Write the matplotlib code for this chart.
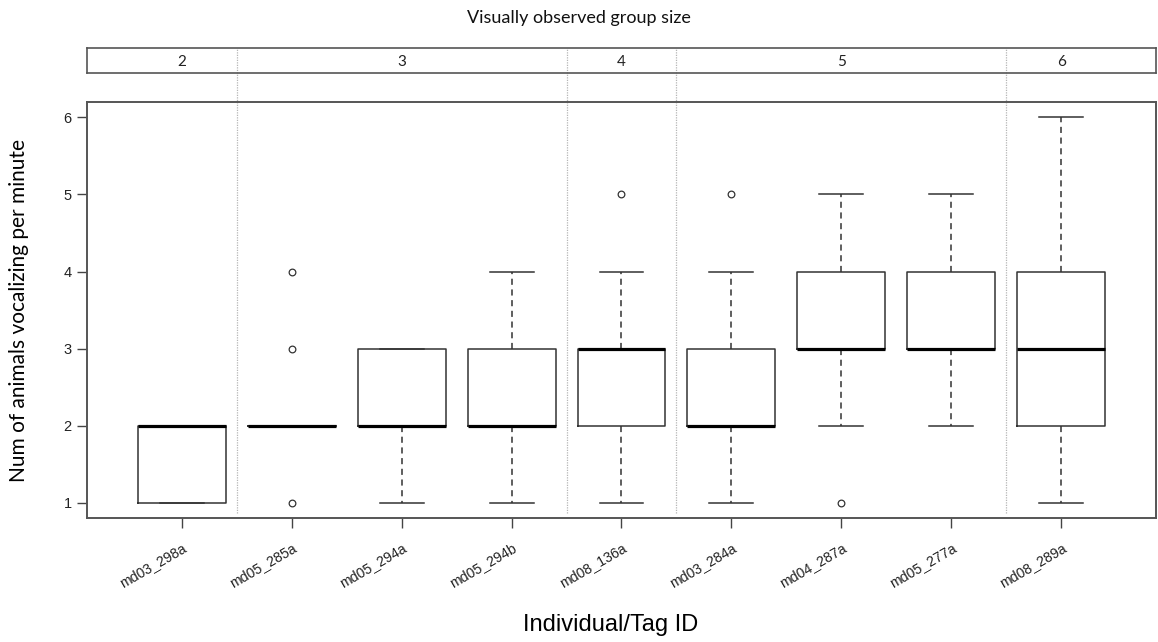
import numpy as np
import matplotlib
matplotlib.use("Agg")
import matplotlib.pyplot as plt

# Tag IDs, one box each
tags = ["md03_298a", "md05_285a", "md05_294a", "md05_294b", "md08_136a",
        "md03_284a", "md04_287a", "md05_277a", "md08_289a"]

# Five-number summaries per tag (animals vocalizing per minute)
whisk_lo = [1, 2, 1, 1, 1, 1, 2, 2, 1]
q1 = [1, 2, 2, 2, 2, 2, 3, 3, 2]
median = [2, 2, 2, 2, 3, 2, 3, 3, 3]
q3 = [2, 2, 3, 3, 3, 3, 4, 4, 4]
whisk_hi = [2, 2, 3, 4, 4, 4, 5, 5, 6]
outliers = [[], [1, 3, 4], [], [], [5], [5], [1], [], []]

# Visually observed group size for each tag
group_size = [2, 3, 3, 3, 4, 5, 5, 5, 6]

stats = []
for i, tag in enumerate(tags):
    stats.append(dict(label=tag, whislo=whisk_lo[i], q1=q1[i], med=median[i],
                      q3=q3[i], whishi=whisk_hi[i], fliers=outliers[i]))

pos = np.arange(1, len(tags) + 1)
n = len(tags)

fig = plt.figure(figsize=(11.58, 6.42), dpi=100)
ax = fig.add_axes([0.0751, 0.1931, 0.9232, 0.6480])

line_col = "#333333"
ax.bxp(stats, positions=pos, widths=0.8, capwidths=0.4, showfliers=True,
       boxprops=dict(color=line_col, linewidth=1.1),
       whiskerprops=dict(color=line_col, linewidth=1.1, linestyle=(0, (4, 3))),
       capprops=dict(color=line_col, linewidth=1.1),
       medianprops=dict(color="black", linewidth=2.3, solid_capstyle="butt"),
       flierprops=dict(marker="o", markersize=4.8, markerfacecolor="none",
                       markeredgecolor=line_col, markeredgewidth=0.9))

# 4% padding each side, like R's default axis extension
ax.set_xlim(0.5 - 0.04 * n, n + 0.5 + 0.04 * n)
ax.set_ylim(0.8, 6.2)
ax.set_yticks([1, 2, 3, 4, 5, 6])

for s in ax.spines.values():
    s.set_color("#555555")
    s.set_linewidth(1.4)

ax.tick_params(axis="both", direction="out", length=7, width=1.0,
               color="#444444", labelcolor="#222222")
ax.tick_params(axis="y", labelsize=10.5, pad=4)
ax.set_yticklabels([str(v) for v in [1, 2, 3, 4, 5, 6]], family="Liberation Sans")
ax.set_xticks(pos)
ax.set_xticklabels(tags, rotation=30, ha="right", rotation_mode="anchor",
                   family="Liberation Sans", fontsize=10.2)
ax.tick_params(axis="x", pad=9)

# Dotted dividers between group sizes, running up through the strip
sizes = np.array(group_size)
breaks = np.where(np.diff(sizes) != 0)[0]
for b in breaks:
    xb = pos[b] + 0.5
    ax.plot([xb, xb], [0.012, 1.13], transform=ax.get_xaxis_transform(),
            color="#b5b5b5", linewidth=0.9, linestyle=(0, (1, 1)),
            clip_on=False, zorder=0)

# Strip holding the group size labels
strip = fig.add_axes([0.0751, 0.8863, 0.9232, 0.0389])
strip.set_xlim(ax.get_xlim())
strip.set_ylim(0, 1)
strip.set_xticks([])
strip.set_yticks([])
strip.patch.set_alpha(0)
for s in strip.spines.values():
    s.set_color("#555555")
    s.set_linewidth(1.2)
for g in np.unique(sizes):
    xc = pos[sizes == g].mean()
    strip.text(xc, 0.45, str(g), ha="center", va="center", fontsize=11,
               family="Lato", color="#222222")

fig.text(0.5, 0.972, "Visually observed group size", ha="center", va="center",
         fontsize=13, family="Lato", color="#111111")
fig.text(0.016, 0.517, "Num of animals vocalizing per minute", rotation=90,
         ha="center", va="center", fontsize=15, family="Lato", color="black")
fig.text(0.527, 0.027, "Individual/Tag ID", ha="center", va="center",
         fontsize=17, family="Liberation Sans", color="black")

fig.savefig("out.png", dpi=100)
